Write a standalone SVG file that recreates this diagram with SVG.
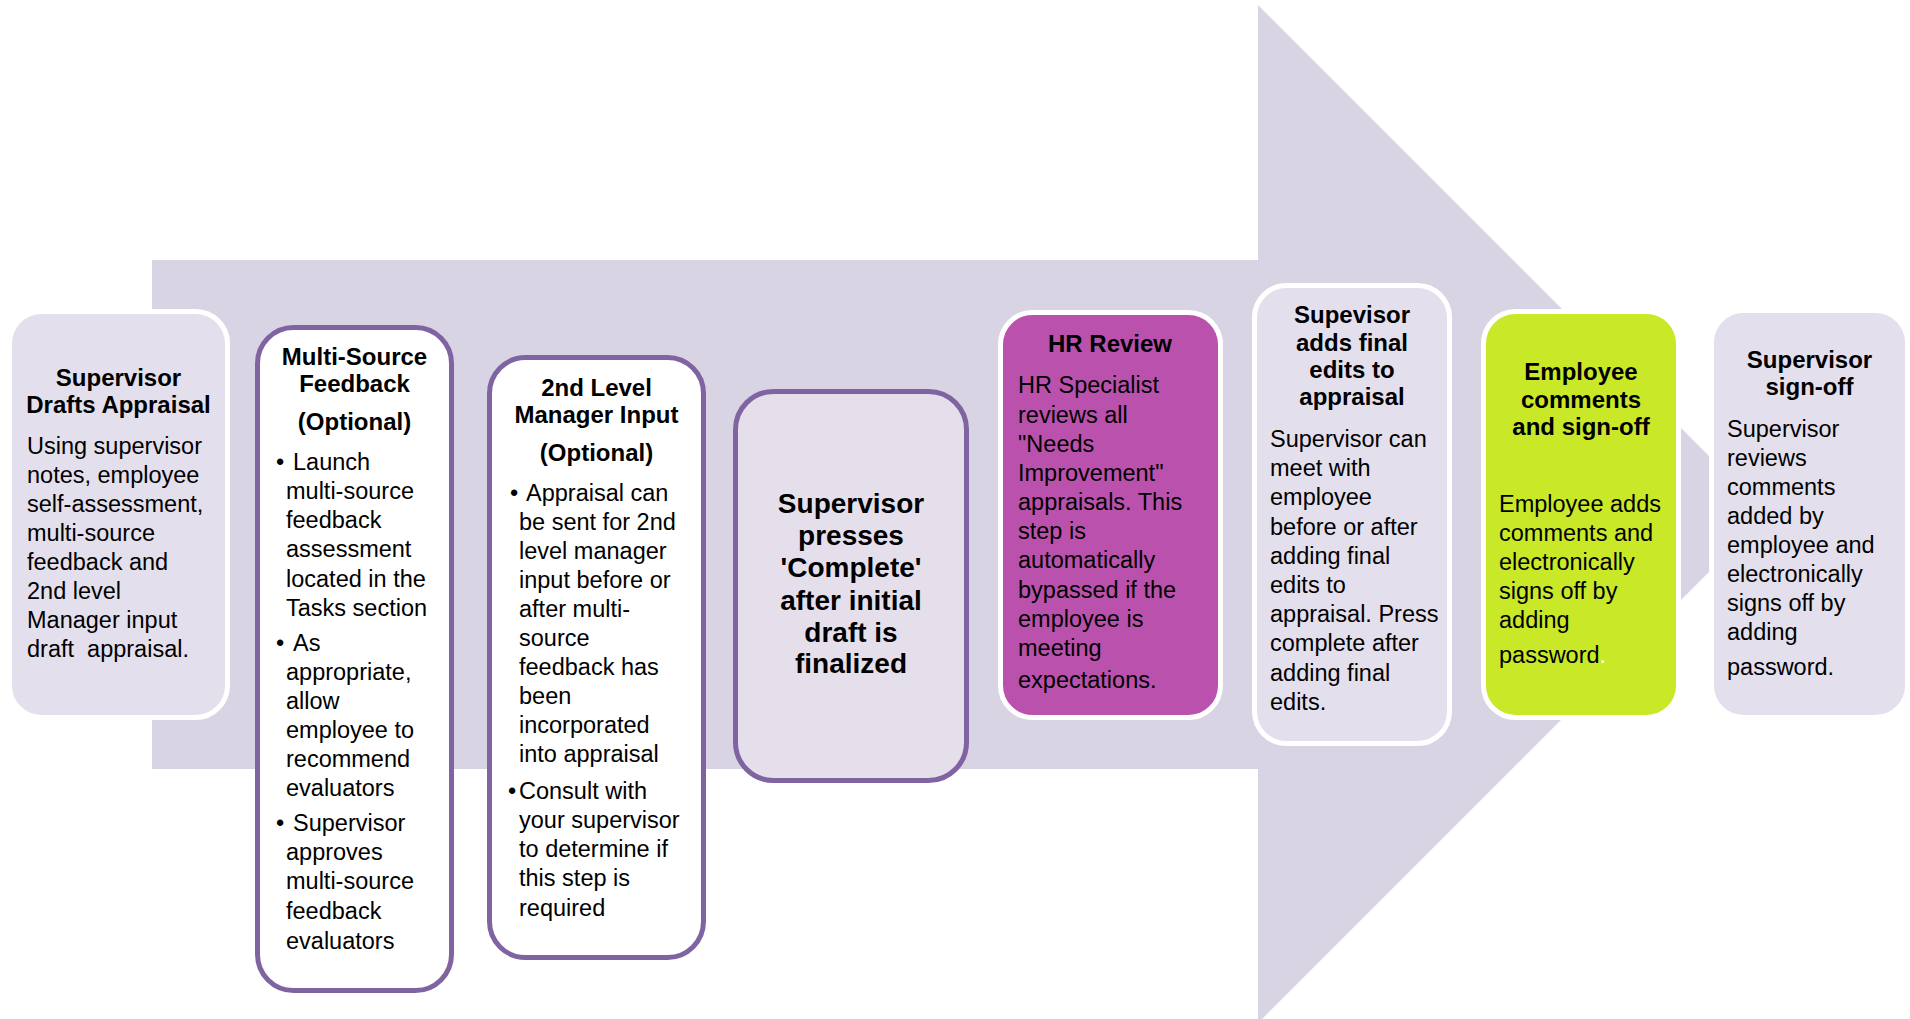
<svg xmlns="http://www.w3.org/2000/svg" width="1910" height="1019" viewBox="0 0 1910 1019">
<style>
  text { font-family: "Liberation Sans", Arial, sans-serif; fill: #000; }
  .t { font-weight: bold; font-size: 24px; text-anchor: middle; }
  .tb { font-weight: bold; font-size: 28px; text-anchor: middle; }
  .b { font-size: 23.5px; }
  .light { fill: #E4DFEC; stroke: #FFFFFF; stroke-width: 5; }
  .opt { fill: #FFFFFF; stroke: #8064A2; stroke-width: 5; }
  .optl { fill: #E5DFEC; stroke: #8064A2; stroke-width: 5; }
  .hr { fill: #BA52AD; stroke: #FFFFFF; stroke-width: 5; }
  .lime { fill: #C9E827; stroke: #FFFFFF; stroke-width: 5; }
</style>
<rect width="1910" height="1019" fill="#FFFFFF"/>
<g id="flow-arrow">
  <polygon points="152,260 1258,260 1258,5 1767,514 1258,1023 1258,769 152,769" fill="#D8D4E3"/>
</g>

<g id="node-drafts">
  <rect class="light" x="9.5" y="311.5" width="218" height="406" rx="32"/>
  <text class="t" x="118.5" y="386">Supervisor</text>
  <text class="t" x="118.5" y="413">Drafts Appraisal</text>
  <text class="b" x="27" y="454">Using supervisor</text>
  <text class="b" x="27" y="483">notes, employee</text>
  <text class="b" x="27" y="512">self-assessment,</text>
  <text class="b" x="27" y="541">multi-source</text>
  <text class="b" x="27" y="570">feedback and</text>
  <text class="b" x="27" y="599">2nd level</text>
  <text class="b" x="27" y="628">Manager input</text>
  <text class="b" x="27" y="657" xml:space="preserve">draft  appraisal.</text>
</g>

<g id="node-multisource">
  <rect class="opt" x="257.5" y="327.5" width="194" height="663" rx="36"/>
  <text class="t" x="354.5" y="365">Multi-Source</text>
  <text class="t" x="354.5" y="392">Feedback</text>
  <text class="t" x="354.5" y="430">(Optional)</text>
  <text class="b" x="276" y="470">•</text>
  <text class="b" x="293" y="470">Launch</text>
  <text class="b" x="286" y="499">multi-source</text>
  <text class="b" x="286" y="528">feedback</text>
  <text class="b" x="286" y="557">assessment</text>
  <text class="b" x="286" y="587">located in the</text>
  <text class="b" x="286" y="616">Tasks section</text>
  <text class="b" x="276" y="651">•</text>
  <text class="b" x="293" y="651">As</text>
  <text class="b" x="286" y="680">appropriate,</text>
  <text class="b" x="286" y="709">allow</text>
  <text class="b" x="286" y="738">employee to</text>
  <text class="b" x="286" y="767">recommend</text>
  <text class="b" x="286" y="796">evaluators</text>
  <text class="b" x="276" y="831">•</text>
  <text class="b" x="293" y="831">Supervisor</text>
  <text class="b" x="286" y="860">approves</text>
  <text class="b" x="286" y="889">multi-source</text>
  <text class="b" x="286" y="919">feedback</text>
  <text class="b" x="286" y="949">evaluators</text>
</g>

<g id="node-2ndlevel">
  <rect class="opt" x="489.5" y="357.5" width="214" height="600" rx="36"/>
  <text class="t" x="596.5" y="396">2nd Level</text>
  <text class="t" x="596.5" y="423">Manager Input</text>
  <text class="t" x="596.5" y="461">(Optional)</text>
  <text class="b" x="510" y="501">•</text>
  <text class="b" x="526" y="501">Appraisal can</text>
  <text class="b" x="519" y="530">be sent for 2nd</text>
  <text class="b" x="519" y="559">level manager</text>
  <text class="b" x="519" y="588">input before or</text>
  <text class="b" x="519" y="617">after multi-</text>
  <text class="b" x="519" y="646">source</text>
  <text class="b" x="519" y="675">feedback has</text>
  <text class="b" x="519" y="704">been</text>
  <text class="b" x="519" y="733">incorporated</text>
  <text class="b" x="519" y="762">into appraisal</text>
  <text class="b" x="508" y="799">•</text>
  <text class="b" x="519" y="799">Consult with</text>
  <text class="b" x="519" y="828">your supervisor</text>
  <text class="b" x="519" y="857">to determine if</text>
  <text class="b" x="519" y="886">this step is</text>
  <text class="b" x="519" y="916">required</text>
</g>

<g id="node-complete">
  <rect class="optl" x="735.5" y="391.5" width="231" height="389" rx="38"/>
  <text class="tb" x="851" y="513">Supervisor</text>
  <text class="tb" x="851" y="545">presses</text>
  <text class="tb" x="851" y="577">'Complete'</text>
  <text class="tb" x="851" y="610">after initial</text>
  <text class="tb" x="851" y="642">draft is</text>
  <text class="tb" x="851" y="673">finalized</text>
</g>

<g id="node-hr-review">
  <rect class="hr" x="1000.5" y="312.5" width="220" height="405" rx="32"/>
  <text class="t" x="1110" y="352">HR Review</text>
  <text class="b" x="1018" y="393">HR Specialist</text>
  <text class="b" x="1018" y="423">reviews all</text>
  <text class="b" x="1018" y="452">"Needs</text>
  <text class="b" x="1018" y="481">Improvement"</text>
  <text class="b" x="1018" y="510">appraisals. This</text>
  <text class="b" x="1018" y="539">step is</text>
  <text class="b" x="1018" y="568">automatically</text>
  <text class="b" x="1018" y="598">bypassed if the</text>
  <text class="b" x="1018" y="627">employee is</text>
  <text class="b" x="1018" y="656">meeting</text>
  <text class="b" x="1018" y="688">expectations.</text>
</g>

<g id="node-final-edits">
  <rect class="light" x="1254.5" y="285.5" width="195" height="458" rx="32"/>
  <text class="t" x="1352" y="323">Supevisor</text>
  <text class="t" x="1352" y="351">adds final</text>
  <text class="t" x="1352" y="378">edits to</text>
  <text class="t" x="1352" y="405">appraisal</text>
  <text class="b" x="1270" y="447">Supervisor can</text>
  <text class="b" x="1270" y="476">meet with</text>
  <text class="b" x="1270" y="505">employee</text>
  <text class="b" x="1270" y="535">before or after</text>
  <text class="b" x="1270" y="564">adding final</text>
  <text class="b" x="1270" y="593">edits to</text>
  <text class="b" x="1270" y="622">appraisal. Press</text>
  <text class="b" x="1270" y="651">complete after</text>
  <text class="b" x="1270" y="681">adding final</text>
  <text class="b" x="1270" y="710">edits.</text>
</g>

<g id="node-employee-signoff">
  <rect class="lime" x="1483.5" y="311.5" width="195" height="406" rx="32"/>
  <text class="t" x="1581" y="380">Employee</text>
  <text class="t" x="1581" y="408">comments</text>
  <text class="t" x="1581" y="435">and sign-off</text>
  <text class="b" x="1499" y="512">Employee adds</text>
  <text class="b" x="1499" y="541">comments and</text>
  <text class="b" x="1499" y="570">electronically</text>
  <text class="b" x="1499" y="599">signs off by</text>
  <text class="b" x="1499" y="628">adding</text>
  <text class="b" x="1499" y="663">password<tspan fill="#FFFFFF">.</tspan></text>
</g>

<g id="node-supervisor-signoff">
  <rect class="light" x="1711.5" y="310.5" width="196" height="407" rx="32"/>
  <text class="t" x="1809.5" y="368">Supervisor</text>
  <text class="t" x="1809.5" y="395">sign-off</text>
  <text class="b" x="1727" y="437">Supervisor</text>
  <text class="b" x="1727" y="466">reviews</text>
  <text class="b" x="1727" y="495">comments</text>
  <text class="b" x="1727" y="524">added by</text>
  <text class="b" x="1727" y="553">employee and</text>
  <text class="b" x="1727" y="582">electronically</text>
  <text class="b" x="1727" y="611">signs off by</text>
  <text class="b" x="1727" y="640">adding</text>
  <text class="b" x="1727" y="675">password.</text>
</g>
</svg>
